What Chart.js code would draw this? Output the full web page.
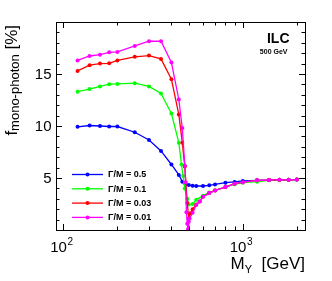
<!DOCTYPE html>
<html>
<head>
<meta charset="utf-8">
<script src="https://cdn.jsdelivr.net/npm/chart.js@4.4.0/dist/chart.umd.min.js"></script>
<style>
  html, body { margin: 0; padding: 0; background: #fff; }
</style>
</head>
<body>
<canvas id="chart" width="332" height="281"></canvas>
<script>
// values (M_Y in GeV, f in %)
const massBlue = [120, 140, 160, 180, 200, 250, 300, 350, 400, 440, 460, 480, 500, 525, 550, 600, 650, 700, 800, 900, 1000, 1200, 1400, 1600, 1800, 2000];
const fracBlue = [9.92, 10.05, 10.0, 9.95, 9.95, 9.4, 8.65, 7.6, 6.3, 5.3, 4.65, 4.4, 4.32, 4.25, 4.23, 4.23, 4.3, 4.38, 4.55, 4.62, 4.72, 4.78, 4.8, 4.82, 4.83, 4.85];

const massGreen = [120, 140, 160, 180, 200, 250, 300, 350, 400, 440, 455, 465, 475, 490, 500, 525, 550, 600, 650, 700, 800, 900, 1000, 1200, 1400, 1600, 1800, 2000];
const fracGreen = [13.3, 13.55, 13.8, 14.02, 14.05, 14.12, 13.8, 13.12, 11.2, 8.4, 6.3, 5.2, 4.0, 3.0, 2.45, 2.5, 2.9, 3.3, 3.6, 3.82, 4.13, 4.4, 4.55, 4.65, 4.78, 4.8, 4.82, 4.85];

const massRed = [120, 140, 160, 180, 200, 250, 300, 350, 400, 440, 460, 475, 490, 500, 510, 525, 550, 575, 600, 650, 700, 800, 900, 1000, 1200, 1400, 1600, 1800, 2000];
const fracRed = [15.3, 15.85, 16.0, 16.03, 16.3, 16.65, 16.77, 16.45, 14.5, 11.1, 8.4, 6.1, 2.6, 1.1, 1.6, 2.0, 2.45, 2.75, 3.2, 3.55, 3.8, 4.13, 4.45, 4.6, 4.78, 4.8, 4.82, 4.83, 4.85];

const massMagenta = [120, 140, 160, 180, 200, 250, 300, 350, 400, 440, 460, 475, 480, 485, 490, 495, 500, 505, 525, 550, 575, 600, 650, 700, 800, 900, 1000, 1200, 1400, 1600, 1800, 2000];
const fracMagenta = [16.3, 16.73, 16.86, 17.08, 17.12, 17.7, 18.15, 18.15, 16.1, 12.55, 9.8, 6.2, 4.6, 1.7, 0.6, 0.1, 0.8, 1.1, 1.65, 2.4, 2.75, 3.2, 3.55, 3.8, 4.13, 4.45, 4.6, 4.78, 4.8, 4.82, 4.83, 4.85];

const seriesLabels = ['\u0393/M = 0.5', '\u0393/M = 0.1', '\u0393/M = 0.03', '\u0393/M = 0.01'];
const seriesColors = ['#0000ff', '#00ff00', '#ff0000', '#ff00ff'];

const yMajorTicks = [5, 10, 15];
const yMinorTicks = [1, 2, 3, 4, 6, 7, 8, 9, 11, 12, 13, 14, 16, 17, 18, 19];
const xMajorTicks = [100, 1000];
const xMajorExponents = ['2', '3'];
const xMinorTicks = [200, 300, 400, 500, 600, 700, 800, 900, 2000];

const FONT = '"Liberation Sans", Arial, Helvetica, sans-serif';

const masses = [massBlue, massGreen, massRed, massMagenta];
const fracs = [fracBlue, fracGreen, fracRed, fracMagenta];

const datasets = seriesLabels.map((label, i) => ({
  label: label,
  data: masses[i].map((m, k) => ({x: m, y: fracs[i][k]})),
  borderColor: seriesColors[i],
  backgroundColor: seriesColors[i],
  pointBackgroundColor: seriesColors[i],
  pointBorderWidth: 0,
  pointRadius: 2,
  borderWidth: 1.3,
  tension: 0,
  fill: false,
  order: 4 - i   // magenta drawn last, on top
}));

// ROOT-like frame, inward ticks, labels and legend
const rootStyle = {
  id: 'rootStyle',
  afterDraw(chart) {
    const ctx = chart.ctx;
    const a = chart.chartArea;
    const xs = chart.scales.x, ys = chart.scales.y;
    ctx.save();
    ctx.strokeStyle = '#000';
    ctx.lineWidth = 1;
    ctx.strokeRect(a.left + 0.5, a.top + 0.5, a.right - a.left, a.bottom - a.top);

    ctx.beginPath();
    const yTick = (v, len) => {
      const p = Math.round(ys.getPixelForValue(v)) + 0.5;
      ctx.moveTo(a.left, p); ctx.lineTo(a.left + len, p);
      ctx.moveTo(a.right, p); ctx.lineTo(a.right - len, p);
    };
    const xTick = (v, len) => {
      const p = Math.round(xs.getPixelForValue(v)) + 0.5;
      ctx.moveTo(p, a.bottom); ctx.lineTo(p, a.bottom - len);
      ctx.moveTo(p, a.top); ctx.lineTo(p, a.top + len);
    };
    yMajorTicks.forEach(v => yTick(v, 6));
    yMinorTicks.forEach(v => yTick(v, 3.5));
    xMajorTicks.forEach(v => xTick(v, 6));
    xMinorTicks.forEach(v => xTick(v, 3.5));
    ctx.stroke();

    ctx.fillStyle = '#000';
    // y tick labels
    ctx.font = '15px ' + FONT;
    ctx.textAlign = 'right';
    ctx.textBaseline = 'middle';
    yMajorTicks.forEach(v => ctx.fillText(String(v), 51.5, ys.getPixelForValue(v) + 0.5));

    // x tick labels 10^n
    ctx.textAlign = 'left';
    ctx.textBaseline = 'alphabetic';
    xMajorTicks.forEach((v, i) => {
      const px = xs.getPixelForValue(v);
      ctx.font = '15px ' + FONT;
      const w1 = ctx.measureText('10').width;
      ctx.font = '10px ' + FONT;
      const w2 = ctx.measureText(xMajorExponents[i]).width;
      const x0 = px - (w1 + w2) / 2 - 2;
      ctx.font = '15px ' + FONT;
      ctx.fillText('10', x0, 251.5);
      ctx.font = '10px ' + FONT;
      ctx.fillText(xMajorExponents[i], x0 + w1 + 0.5, 245);
    });

    // x title: M_Y  [GeV], right aligned to the frame
    ctx.font = '17px ' + FONT;
    const wM = ctx.measureText('M').width;
    const wG = ctx.measureText('  [GeV]').width;
    ctx.font = '11px ' + FONT;
    const wY = ctx.measureText('Y').width;
    let xt = a.right - (wM + wY + wG);
    ctx.font = '17px ' + FONT;
    ctx.fillText('M', xt, 268.5);
    ctx.font = '11px ' + FONT;
    ctx.fillText('Y', xt + wM, 273);
    ctx.font = '17px ' + FONT;
    ctx.fillText('  [GeV]', xt + wM + wY, 268.5);

    // y title: f_mono-photon [%], rotated, ending at frame top
    ctx.save();
    ctx.translate(16.5, 25);
    ctx.rotate(-Math.PI / 2);
    ctx.font = '17px ' + FONT;
    const wf = ctx.measureText('f').width;
    const wp = ctx.measureText(' [%]').width;
    ctx.font = '13px ' + FONT;
    const ws = ctx.measureText('mono-photon').width;
    const start = -(wf + ws + wp);
    ctx.font = '17px ' + FONT;
    ctx.fillText('f', start, 0);
    ctx.font = '13px ' + FONT;
    ctx.fillText('mono-photon', start + wf, 2.5);
    ctx.font = '17px ' + FONT;
    ctx.fillText(' [%]', start + wf + ws, 0);
    ctx.restore();

    // ILC / 500 GeV
    ctx.textAlign = 'right';
    ctx.font = 'bold 14px ' + FONT;
    ctx.fillText('ILC', 289.5, 42.5);
    ctx.font = 'bold 7px ' + FONT;
    ctx.fillText('500 GeV', 287.5, 54);

    // legend
    ctx.textAlign = 'left';
    ctx.textBaseline = 'middle';
    ctx.font = 'bold 9px ' + FONT;
    seriesLabels.forEach((label, i) => {
      const y = 174.5 + i * 14.3;
      ctx.strokeStyle = seriesColors[i];
      ctx.fillStyle = seriesColors[i];
      ctx.lineWidth = 1.3;
      ctx.beginPath();
      ctx.moveTo(72, y); ctx.lineTo(103, y);
      ctx.stroke();
      ctx.beginPath();
      ctx.arc(87.5, y, 2, 0, Math.PI * 2);
      ctx.fill();
      ctx.fillStyle = '#000';
      ctx.fillText(label, 108, y + 0.5);
    });
    ctx.restore();
  }
};

new Chart(document.getElementById('chart'), {
  type: 'line',
  data: {datasets: datasets},
  options: {
    responsive: false,
    animation: false,
    devicePixelRatio: 1,
    layout: {padding: {left: 56, right: 27, top: 22, bottom: 51}},
    plugins: {legend: {display: false}, tooltip: {enabled: false}},
    scales: {
      x: {type: 'logarithmic', min: 91, max: 2220, display: false},
      y: {type: 'linear', min: 0, max: 20, display: false}
    }
  },
  plugins: [rootStyle]
});
</script>
</body>
</html>
